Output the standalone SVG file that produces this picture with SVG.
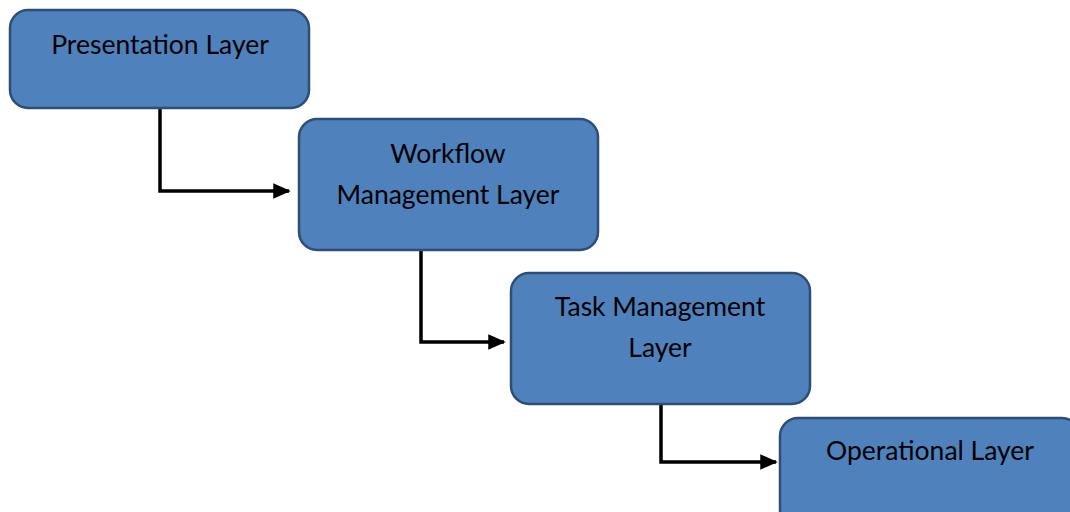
<svg xmlns="http://www.w3.org/2000/svg" width="1070" height="512" viewBox="0 0 1070 512">
<style>
.box{fill:#4F81BD;stroke:#2F4E75;stroke-width:2.5}
.lbl{font-family:Lato,"Liberation Sans",sans-serif;font-size:26.5px;fill:#000;text-anchor:middle}
.con{fill:none;stroke:#000;stroke-width:3.5}
</style>
<defs>
<marker id="arr" markerWidth="5" markerHeight="4.4" refX="4.5" refY="2.2" orient="auto" markerUnits="strokeWidth">
<path d="M0,0 L5,2.2 L0,4.4 Z" fill="#000"/>
</marker>
</defs>
<rect width="1070" height="512" fill="#fff"/>
<g id="connectors">
<path class="con" d="M160,108 V191 H289" marker-end="url(#arr)"/>
<path class="con" d="M421,250 V342 H504" marker-end="url(#arr)"/>
<path class="con" d="M661,404 V462 H776" marker-end="url(#arr)"/>
</g>
<g id="presentation">
<rect class="box" x="10" y="10" width="299" height="98" rx="18"/>
<text class="lbl" x="160" y="54">Presentation Layer</text>
</g>
<g id="workflow">
<rect class="box" x="299" y="119" width="299" height="131" rx="18"/>
<text class="lbl" x="448" y="163">Workflow</text>
<text class="lbl" x="448" y="204">Management Layer</text>
</g>
<g id="task">
<rect class="box" x="511" y="273" width="299" height="131" rx="18"/>
<text class="lbl" x="660" y="316">Task Management</text>
<text class="lbl" x="660" y="357">Layer</text>
</g>
<g id="operational">
<rect class="box" x="780" y="418" width="300" height="110" rx="18"/>
<text class="lbl" x="930" y="460">Operational Layer</text>
</g>
</svg>
